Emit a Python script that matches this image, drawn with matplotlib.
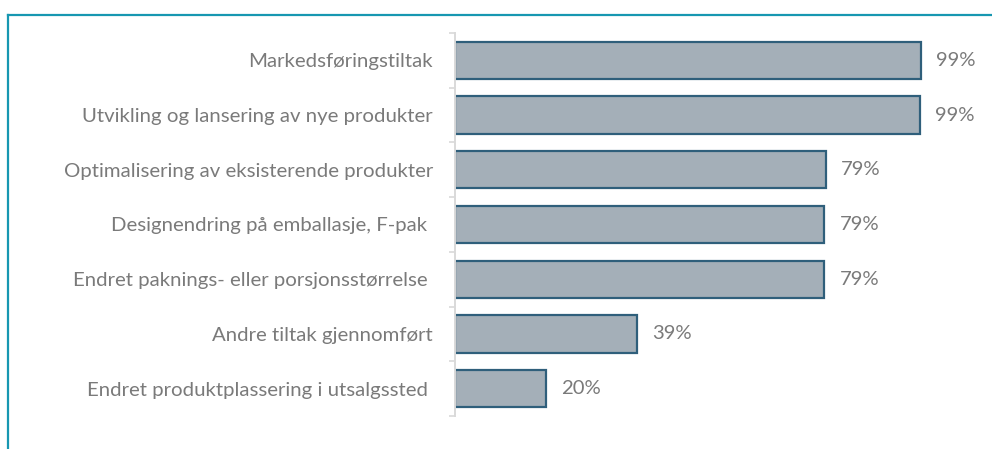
import matplotlib
matplotlib.use("Agg")
import matplotlib.pyplot as plt
from matplotlib.lines import Line2D

categories = [
    "Markedsføringstiltak",
    "Utvikling og lansering av nye produkter",
    "Optimalisering av eksisterende produkter",
    "Designendring på emballasje, F-pak ",
    "Endret paknings- eller porsjonsstørrelse ",
    "Andre tiltak gjennomført",
    "Endret produktplassering i utsalgssted ",
]
values = [99.1, 98.9, 78.9, 78.6, 78.6, 38.8, 19.4]
value_labels = ["99%", "99%", "79%", "79%", "79%", "39%", "20%"]

plt.rcParams['font.family'] = ['Lato', 'DejaVu Sans']

W, H = 992, 449
fig = plt.figure(figsize=(W / 100, H / 100), dpi=100)
ax_left, ax_right = 455, 992
ax_top, ax_bot = 33, 416
ax = fig.add_axes([ax_left / W, (H - ax_bot) / H, (ax_right - ax_left) / W, (ax_bot - ax_top) / H])

n = len(categories)
ypos = list(range(n))
ax.barh(ypos, values, height=0.68, color="#a4afb8", edgecolor="#2f5f7b", linewidth=1.6)
ax.set_ylim(n - 0.5, -0.5)
ax.set_xlim(0, (ax_right - ax_left) / 4.699)

text_color = "#7a7a7a"
for y, v, lab in zip(ypos, values, value_labels):
    ax.annotate(lab, (v, y), xytext=(11, 0), textcoords="offset points",
                va="center", ha="left", fontsize=14.6, color=text_color)

ax.set_yticks(ypos)
ax.set_yticklabels(categories, fontsize=14.7, color=text_color)
ax.set_yticks([i - 0.5 for i in range(n + 1)], minor=True)
ax.tick_params(axis="y", which="major", length=0, pad=16)
ax.tick_params(axis="y", which="minor", length=4, color="#d9d9d9", width=1.2)
ax.set_xticks([])
for s in ["top", "right", "bottom"]:
    ax.spines[s].set_visible(False)
ax.spines["left"].set_color("#d9d9d9")
ax.spines["left"].set_linewidth(1.4)

frame_color = "#1797b1"
fig.add_artist(Line2D([8 / W, 1.0], [(H - 15) / H, (H - 15) / H], color=frame_color, linewidth=1.6, transform=fig.transFigure))
fig.add_artist(Line2D([8 / W, 8 / W], [(H - 15) / H, 0.0], color=frame_color, linewidth=1.6, transform=fig.transFigure))

fig.savefig("out.png", dpi=100)
